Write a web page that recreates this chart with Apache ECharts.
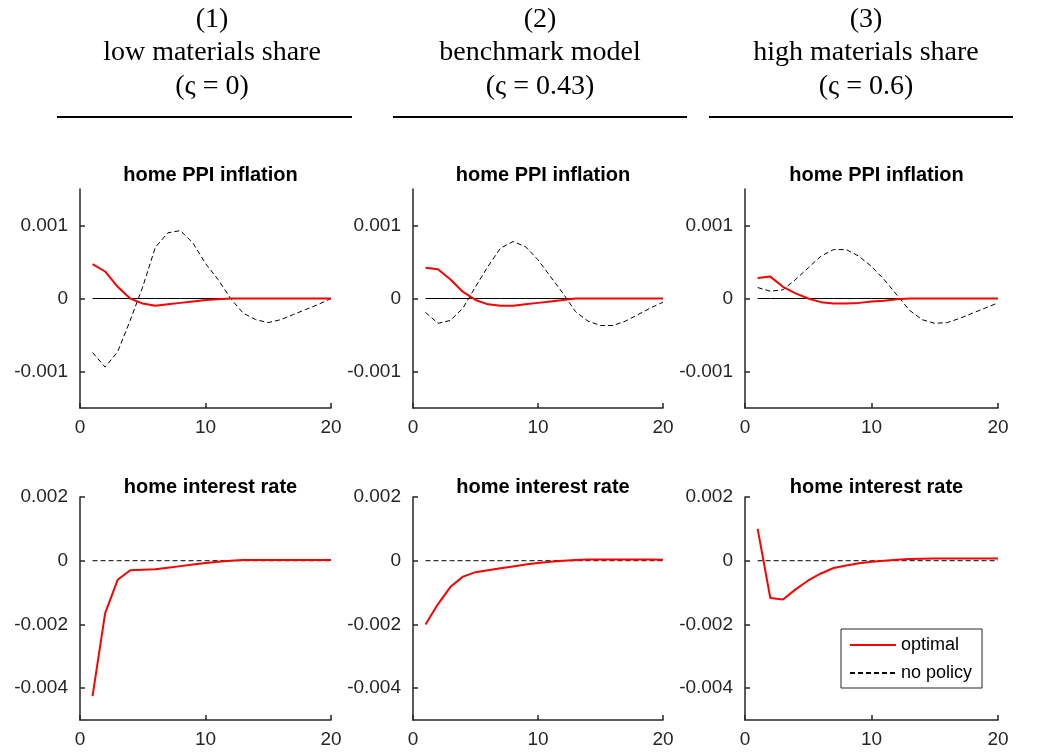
<!DOCTYPE html>
<html>
<head>
<meta charset="utf-8">
<script src="https://cdn.jsdelivr.net/npm/echarts@6/dist/echarts.min.js"></script>
<style>body{margin:0}#main{width:1040px;height:756px}</style>
</head>
<body>
<div id="main"></div>
<script>
var periods = [1,2,3,4,5,6,7,8,9,10,11,12,13,14,15,16,17,18,19,20];
var headers = [['(1)','low materials share','(\u03c2 = 0)'],['(2)','benchmark model','(\u03c2 = 0.43)'],['(3)','high materials share','(\u03c2 = 0.6)']];
var rowTitles = ['home PPI inflation','home interest rate'];

// home PPI inflation
var ppiOpt1 = [0.00047,0.00037,0.00016,0.0,-0.00007,-0.0001,-0.00008,-0.00006,-0.00004,-0.00002,-0.00001,0,0,0,0,0,0,0,0,0];
var ppiNo1 = [-0.00074,-0.00094,-0.00073,-0.0003,0.00016,0.0007,0.0009,0.00093,0.00076,0.00048,0.00026,0,-0.0002,-0.00029,-0.00033,-0.00029,-0.00022,-0.00015,-0.00008,0];
var ppiOpt2 = [0.00042,0.0004,0.00026,0.00009,-0.00002,-0.00008,-0.0001,-0.0001,-0.00008,-0.00006,-0.00004,-0.00002,0,0,0,0,0,0,0,0];
var ppiNo2 = [-0.00019,-0.00034,-0.0003,-0.00013,0.00016,0.00044,0.00069,0.00078,0.00071,0.00053,0.0003,0.00007,-0.00018,-0.00031,-0.00037,-0.00037,-0.00031,-0.00022,-0.00013,-0.00005];
var ppiOpt3 = [0.00028,0.0003,0.00016,0.00007,0,-0.00005,-0.00007,-0.00007,-0.00006,-0.00004,-0.00003,-0.00001,0,0,0,0,0,0,0,0];
var ppiNo3 = [0.00015,0.0001,0.00012,0.00026,0.00042,0.00058,0.00067,0.00067,0.00058,0.00044,0.00026,0.00005,-0.00016,-0.00029,-0.00034,-0.00033,-0.00027,-0.0002,-0.00013,-0.00006];
// home interest rate
var rateOpt1 = [-0.00425,-0.00165,-0.0006,-0.0003,-0.00028,-0.00027,-0.00022,-0.00017,-0.00012,-0.00007,-0.00003,0,0.00002,0.00002,0.00002,0.00002,0.00002,0.00002,0.00002,0.00002];
var rateOpt2 = [-0.002,-0.00136,-0.00082,-0.0005,-0.00036,-0.0003,-0.00024,-0.00018,-0.00012,-0.00007,-0.00003,0,0.00002,0.00004,0.00004,0.00004,0.00004,0.00004,0.00004,0.00003];
var rateOpt3 = [0.001,-0.00117,-0.00122,-0.0009,-0.00062,-0.0004,-0.00023,-0.00015,-0.00008,-0.00003,0,0.00003,0.00005,0.00006,0.00007,0.00007,0.00007,0.00007,0.00007,0.00007];
var rateNo = [0,0,0,0,0,0,0,0,0,0,0,0,0,0,0,0,0,0,0,0];
var zeroLine = [0,0,0,0,0,0,0,0,0,0,0,0,0,0,0,0,0,0,0,0];
var ppiTicks = [-0.001,0,0.001];
var rateTicks = [-0.004,-0.002,0,0.002];

function pair(arr){ return periods.map(function(p,i){ return [p,arr[i]]; }); }

var lefts = [80,413,745], widths = [251,250,253];
var grids = [], xAxes = [], yAxes = [], series = [], titles = [], graphic = [];
var opts = [[ppiOpt1,ppiOpt2,ppiOpt3],[rateOpt1,rateOpt2,rateOpt3]];
var nos = [[ppiNo1,ppiNo2,ppiNo3],[rateNo,rateNo,rateNo]];
var axisStyle = {color:'#262626',width:1.5};
var labelStyle = {color:'#262626',fontSize:19,fontFamily:'Arial'};

for (var r=0;r<2;r++){
  for (var c=0;c<3;c++){
    var k = r*3+c;
    grids.push({left:lefts[c],width:widths[c],top:r==0?189:497,height:r==0?219:223});
    xAxes.push({type:'value',gridIndex:k,min:0,max:20,interval:10,
      axisLine:{onZero:false,lineStyle:axisStyle},axisTick:{inside:true,length:5,lineStyle:axisStyle},
      axisLabel:Object.assign({margin:10},labelStyle),splitLine:{show:false}});
    var ticks = r==0?ppiTicks:rateTicks;
    yAxes.push({type:'value',gridIndex:k,min:r==0?-0.0015:-0.005,max:r==0?0.0015:0.002,
      axisLine:{show:true,onZero:false,lineStyle:axisStyle},
      axisTick:{show:true,inside:true,length:5,customValues:ticks,lineStyle:axisStyle},
      axisLabel:Object.assign({margin:12,customValues:ticks,formatter:function(v){return String(+v.toFixed(4));}},labelStyle),
      splitLine:{show:false}});
    titles.push({text:rowTitles[r],left:lefts[c]+widths[c]/2,textAlign:'center',top:r==0?160:472,
      textStyle:{fontFamily:'Arial',fontWeight:'bold',fontSize:20,color:'#000'}});
    if (r==0){
      series.push({type:'line',xAxisIndex:k,yAxisIndex:k,data:pair(zeroLine),symbol:'none',silent:true,
        lineStyle:{color:'#000',width:1},z:1});
    }
    series.push({name:'no policy',type:'line',xAxisIndex:k,yAxisIndex:k,data:pair(nos[r][c]),symbol:'none',
      itemStyle:{color:'#000'},lineStyle:{color:'#000',width:1,type:[5,3]},z:2});
    series.push({name:'optimal',type:'line',xAxisIndex:k,yAxisIndex:k,data:pair(opts[r][c]),symbol:'none',
      itemStyle:{color:'#ff0000'},lineStyle:{color:'#ff0000',width:2},z:3});
  }
}

var lineX = [[57,352],[393,687],[709,1013]];
var centers = [212,540,866];
for (var c=0;c<3;c++){
  for (var i=0;i<3;i++){
    graphic.push({type:'text',x:centers[c],y:[6,39,73][i],style:{text:headers[c][i],
      font:'28px "Liberation Serif", "Times New Roman", serif',fill:'#000',align:'center'}});
  }
  graphic.push({type:'line',shape:{x1:lineX[c][0],y1:117,x2:lineX[c][1],y2:117},style:{stroke:'#000',lineWidth:2}});
}

var myChart = echarts.init(document.getElementById('main'));
myChart.setOption({
  animation:false,
  backgroundColor:'#fff',
  title:titles,
  grid:grids, xAxis:xAxes, yAxis:yAxes, series:series,
  graphic:graphic,
  legend:{data:['optimal','no policy'],orient:'vertical',left:841,top:629,
    itemWidth:46,itemHeight:14,itemGap:10,padding:[7,10,6,8],
    itemStyle:{opacity:0},
    borderColor:'#262626',borderWidth:1,backgroundColor:'#fff',
    textStyle:{fontFamily:'Arial',fontSize:18,color:'#000'}}
});
</script>
</body>
</html>
